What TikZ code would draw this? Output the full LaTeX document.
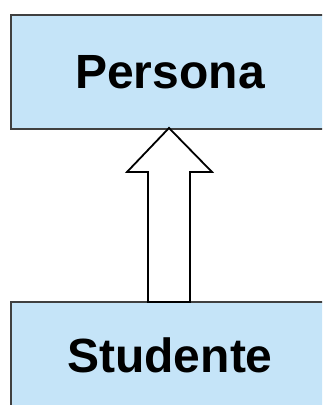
\documentclass[tikz,border=0pt]{standalone}
\usepackage{fontspec}
\setmainfont{Liberation Sans}
\definecolor{boxblue}{HTML}{C5E4F8}
\definecolor{boxline}{HTML}{404040}
\begin{document}
\begin{tikzpicture}[x=1pt,y=-1pt,
  classbox/.style={draw=boxline,line width=1.2pt,fill=boxblue,minimum width=348pt,minimum height=114pt,inner sep=0pt},
  classtext/.style={inner sep=0pt,font=\fontsize{48}{56}\selectfont\bfseries},
  blockarrow/.style={draw=black,line width=1.8pt,fill=white,line join=miter}]
\useasboundingbox (0,0) rectangle (322,405);
\clip (0,0) rectangle (322,405);
\node[classbox] (persona) at (185,72) {};
\node[classtext] (personatext) at (170,72) {Persona};
\node[classbox,minimum height=114pt] (studente) at (185,359) {};
\node[classtext] (studentetext) at (170,355) {Studente};
\coordinate (tip) at (169,128);
\coordinate (base) at (169,302);
\draw[blockarrow] (tip) -- ++(43,44) -- ++(-22,0) |- ([xshift=-21pt]base) -- ++(0,-130) -- ++(-21,0) -- cycle;
\end{tikzpicture}
\end{document}
